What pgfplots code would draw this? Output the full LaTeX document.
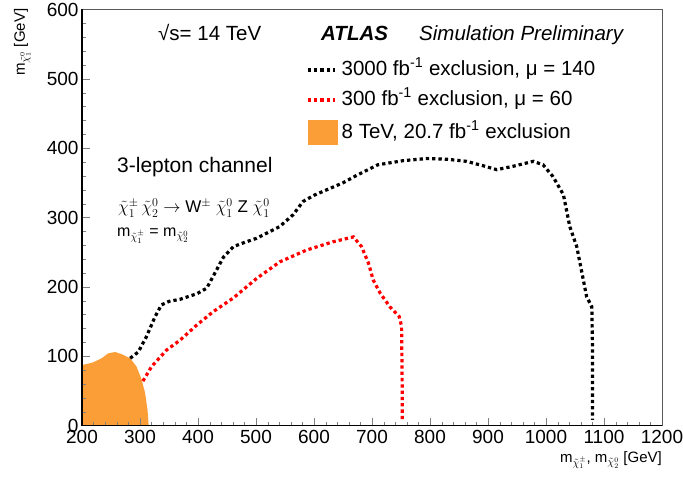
\documentclass[border=0pt]{standalone}
\usepackage{fontspec}
\setmainfont{Liberation Sans}
\usepackage{pgfplots}
\pgfplotsset{compat=1.18}
\definecolor{atlasorange}{RGB}{252,158,55}
\begin{document}
\begin{tikzpicture}
\useasboundingbox (-82pt,-56.5pt) rectangle (601pt,425.5pt);
\begin{axis}[
  at={(0pt,0pt)}, anchor=south west,
  scale only axis, width=580pt, height=416pt,
  xmin=200, xmax=1200, ymin=0, ymax=600,
  xtick={200,300,...,1200}, ytick={0,100,...,600},
  minor x tick num=4, minor y tick num=4,
  xtick pos=left, ytick pos=left,
  tickwidth=8pt, subtickwidth=4pt,
  axis line style={black!65, line width=0.8pt},
  axis on top,
  ticklabel style={font=\fontsize{19}{22}\selectfont},
  xticklabel style={yshift=-1pt},
  /pgf/number format/assume math mode=true,
  /pgf/number format/1000 sep={},
  scaled ticks=false,
  legend style={at={(0.386,0.879)}, anchor=north west, draw=none, fill=none,
    inner sep=0pt, row sep=10pt, font=\fontsize{20.5}{24}\selectfont,
    nodes={inner xsep=4pt, inner ysep=0pt, text height=15pt, text depth=5pt}},
  legend cell align=left,
  reverse legend,
]
\addplot[fill=atlasorange, draw=none,
  legend image code/.code={\fill[atlasorange] (0pt,-12pt) rectangle (30pt,13pt);}]
  coordinates {
  (200,0) (200,87) (219,91) (234,97) (245,104) (257,106) (268,103)
  (283,97) (294,85) (303,66) (309,46) (313,22) (315,0)
  } \closedcycle;
\addlegendentry{8 TeV, 20.7 fb\textsuperscript{-1} exclusion}
\addplot[red, line width=3.2pt, dash pattern=on 3.3pt off 3pt,
  legend image code/.code={\draw[red, line width=3.2pt, dash pattern=on 3.3pt off 3pt] (0pt,0pt) -- (27pt,0pt);}]
  coordinates {
  (305,64) (320,85) (346,109) (369,123) (398,145) (426,164)
  (461,184) (501,212) (541,236) (587,253) (633,265) (668,272) (682,258)
  (694,234) (702,210) (714,191) (731,171) (747,157) (751,143) (752,60)
  (752,8)
  };
\addlegendentry{300 fb\textsuperscript{-1} exclusion, μ = 60}
\addplot[black, line width=3.2pt, dash pattern=on 3.3pt off 3pt,
  legend image code/.code={\draw[black, line width=3.2pt, dash pattern=on 3.3pt off 3pt] (0pt,0pt) -- (27pt,0pt);}]
  coordinates {
  (283,97) (297,106) (311,128) (326,157) (337,174) (350,179)
  (369,182) (398,190) (415,198) (426,215) (444,243) (461,258) (480,264)
  (501,270) (541,287) (564,304) (581,323) (600,332) (622,340) (650,350)
  (674,361) (710,376) (754,382) (794,385) (830,384) (863,381) (890,375)
  (915,369) (944,374) (978,381) (995,376) (1012,359) (1030,333) (1041,287)
  (1053,258) (1062,220) (1070,186) (1079,171) (1080,120) (1080,8)
  };
\addlegendentry{3000 fb\textsuperscript{-1} exclusion, μ = 140}
\end{axis}
\draw[black, line width=1.4pt] (0pt,416pt) -- (0pt,0pt) -- (580pt,0pt);
\node[anchor=base west, inner sep=0pt, font=\fontsize{20.5}{24}\selectfont] at (76pt,385pt) {√s= 14 TeV};
\node[anchor=base west, inner sep=0pt, font=\fontsize{20.5}{24}\selectfont] at (239pt,385pt) {\textbf{\textit{ATLAS}}};
\node[anchor=base west, inner sep=0pt, font=\fontsize{20.5}{24}\selectfont] at (337pt,385pt) {\textit{Simulation Preliminary}};
\node[anchor=base west, inner sep=0pt, font=\fontsize{21}{24}\selectfont] at (35pt,253pt) {3-lepton channel};
\node[anchor=base west, inner sep=0pt, font=\fontsize{17}{20}\selectfont] at (36pt,212.5pt) {$\tilde{\chi}^{\pm}_{1}\,\tilde{\chi}^{0}_{2}\rightarrow$ W$^{\pm}$ $\tilde{\chi}^{0}_{1}$ Z $\tilde{\chi}^{0}_{1}$};
\node[anchor=base west, inner sep=0pt, font=\fontsize{16}{18}\selectfont] at (35pt,188.5pt) {m$_{\tilde{\chi}^{\pm}_{1}}$ = m$_{\tilde{\chi}^{0}_{2}}$};
\node[rotate=90, anchor=base east, inner sep=0pt, font=\fontsize{15}{18}\selectfont] at (-57pt,417pt) {m$_{\tilde{\chi}^{0}_{1}}$ [GeV]};
\node[anchor=base east, inner sep=0pt, font=\fontsize{15}{18}\selectfont] at (580pt,-37pt) {m$_{\tilde{\chi}^{\pm}_{1}}$, m$_{\tilde{\chi}^{0}_{2}}$ [GeV]};
\end{tikzpicture}
\end{document}
